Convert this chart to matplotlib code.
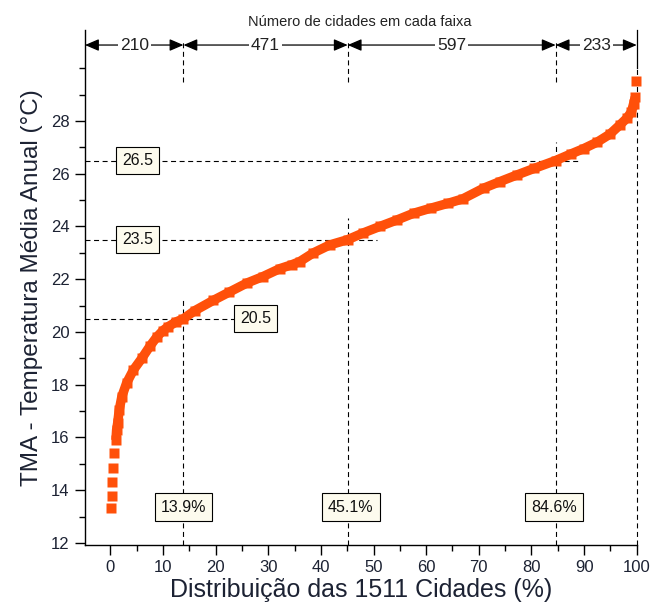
import numpy
import matplotlib
matplotlib.use('Agg')
import matplotlib.pyplot as plt


######################################################################
# Data
######################################################################

# Cumulative distribution of the 1511 cities (percent vs TMA)
pct = [0.07, 0.27, 0.38, 0.57, 0.76, 1.08, 1.20, 1.40, 1.70, 2.2, 3.1, 4.4,
       6.0, 7.5, 8.8, 10.0, 11.0, 12.5, 13.9, 16.0, 19.6, 22.5, 25.9, 29.0,
       32.2, 34.5, 36.0, 38.6, 41.7, 45.1, 48.0, 51.2, 54.5, 57.6, 61.0, 64.2,
       67.0, 70.9, 74.0, 77.2, 80.5, 84.6, 87.5, 89.9, 92.5, 94.9, 96.8, 98.1,
       99.0, 99.4, 99.7, 99.93]
tma = [13.32, 13.78, 14.32, 14.83, 15.40, 15.90, 16.28, 16.54, 17.04, 17.55,
       18.06, 18.56, 19.0, 19.45, 19.8, 20.05, 20.2, 20.38, 20.5, 20.8, 21.2,
       21.5, 21.85, 22.1, 22.4, 22.55, 22.67, 23.0, 23.3, 23.5, 23.75, 24.0,
       24.25, 24.5, 24.7, 24.88, 25.05, 25.45, 25.7, 25.95, 26.2, 26.5, 26.75,
       26.95, 27.2, 27.5, 27.85, 28.1, 28.35, 28.65, 28.9, 29.5]

ref_pct = [13.9, 45.1, 84.6]
ref_tma = [20.5, 23.5, 26.5]
ref_pct_labels = ['13.9%', '45.1%', '84.6%']
ref_tma_labels = ['20.5', '23.5', '26.5']

band_bounds = [-4.8, 13.9, 45.1, 84.6, 100]
band_counts = ['210', '471', '597', '233']

color_pts = '#ff500a'
box_style = dict(boxstyle='square,pad=0.38', fc='#fdfbee', ec='black', lw=0.8)
dash = (0, (4.5, 3.2))
txt_color = '#1c2233'


######################################################################
# Figure
######################################################################

fig = plt.figure(figsize=(6.52, 6.06), dpi=100)
ax = fig.add_axes([85 / 652, 1 - 545 / 606, 552 / 652, 515 / 606])

ax.set_xlim(-4.8, 100.05)
ax.set_ylim(11.92, 31.45)

# dashed guide lines
v_tops = [21.34, 24.31, 27.22]
for x, top in zip(ref_pct, v_tops):
    ax.plot([x, x], [11.92, top], color='black', lw=0.8, linestyle=dash, zorder=1)
    ax.plot([x, x], [29.48, 31.0], color='black', lw=0.8, linestyle=dash,
            zorder=1, clip_on=False)
ax.plot([100, 100], [11.92, 30.0], color='black', lw=0.8, linestyle=dash,
        zorder=1, clip_on=False)

h_ends = [27.5, 50.6, 88.8]
for y, end in zip(ref_tma, h_ends):
    ax.plot([-4.8, end], [y, y], color='black', lw=0.8, linestyle=dash, zorder=1)

# data points
ax.plot(pct[5:-1], tma[5:-1], color=color_pts, lw=6.8,
        solid_capstyle='butt', solid_joinstyle='round', zorder=3)
ax.plot(pct, tma, 's', color=color_pts, ms=6.5, mec='none', zorder=3,
        clip_on=False)

# value boxes
tma_box_x = [27.6, 5.2, 5.2]
for x, y, lab in zip(tma_box_x, ref_tma, ref_tma_labels):
    ax.text(x, y, lab, ha='center', va='center', fontsize=11.5,
            family='Liberation Sans', color='#111111', bbox=box_style, zorder=5)

pct_box_x = [13.9, 45.7, 84.3]
for x, lab in zip(pct_box_x, ref_pct_labels):
    ax.text(x, 13.36, lab, ha='center', va='center', fontsize=11.5,
            family='Liberation Sans', color='#111111', bbox=box_style, zorder=5)

# band arrows on top
y_arrow = 30.88
for i, lab in enumerate(band_counts):
    x0 = band_bounds[i]
    x1 = band_bounds[i + 1]
    ax.annotate(
        '',
        xy=(x1, y_arrow),
        xytext=(x0, y_arrow),
        arrowprops=dict(arrowstyle='<|-|>,head_length=0.7,head_width=0.3',
                        color='black', lw=0.9,
                        shrinkA=0, shrinkB=0, mutation_scale=12),
        annotation_clip=False,
        zorder=4
    )
    ax.text((x0 + x1) / 2, y_arrow, lab, ha='center', va='center',
            fontsize=12.5, family='Liberation Sans', color='#222222',
            bbox=dict(boxstyle='square,pad=0.12', fc='white', ec='none'),
            zorder=5, clip_on=False)

ax.plot([100, 100], [30.0, 31.45], color='black', lw=0.9, clip_on=False)

fig.text(360 / 652, 1 - 22 / 606, 'Número de cidades em cada faixa',
         ha='center', va='center', fontsize=10.5, family='Liberation Sans',
         color='#222222')

# axes style
for side in ['top', 'right']:
    ax.spines[side].set_visible(False)
for side in ['left', 'bottom']:
    ax.spines[side].set_linewidth(1.0)

ax.set_xticks(numpy.arange(0, 101, 10))
ax.set_xticks(numpy.arange(5, 100, 10), minor=True)
ax.set_yticks(numpy.arange(12, 29, 2))
ax.set_yticks([13, 15, 17, 19, 21, 23, 25, 27, 29, 30], minor=True)

ax.tick_params(which='major', direction='out', length=7, width=1.0,
               labelsize=12, labelcolor=txt_color, pad=4)
ax.tick_params(which='minor', direction='out', length=4.5, width=1.0)
for lab in ax.get_xticklabels() + ax.get_yticklabels():
    lab.set_family('Liberation Sans')

ax.set_xlabel('Distribuição das 1511 Cidades (%)', fontsize=18,
              family='Liberation Sans', color=txt_color, labelpad=2)
ax.set_ylabel('TMA - Temperatura Média Anual (°C)', fontsize=17.5,
              family='Liberation Sans', color=txt_color, labelpad=6)

plt.savefig('out.png', dpi=100)
plt.close()
